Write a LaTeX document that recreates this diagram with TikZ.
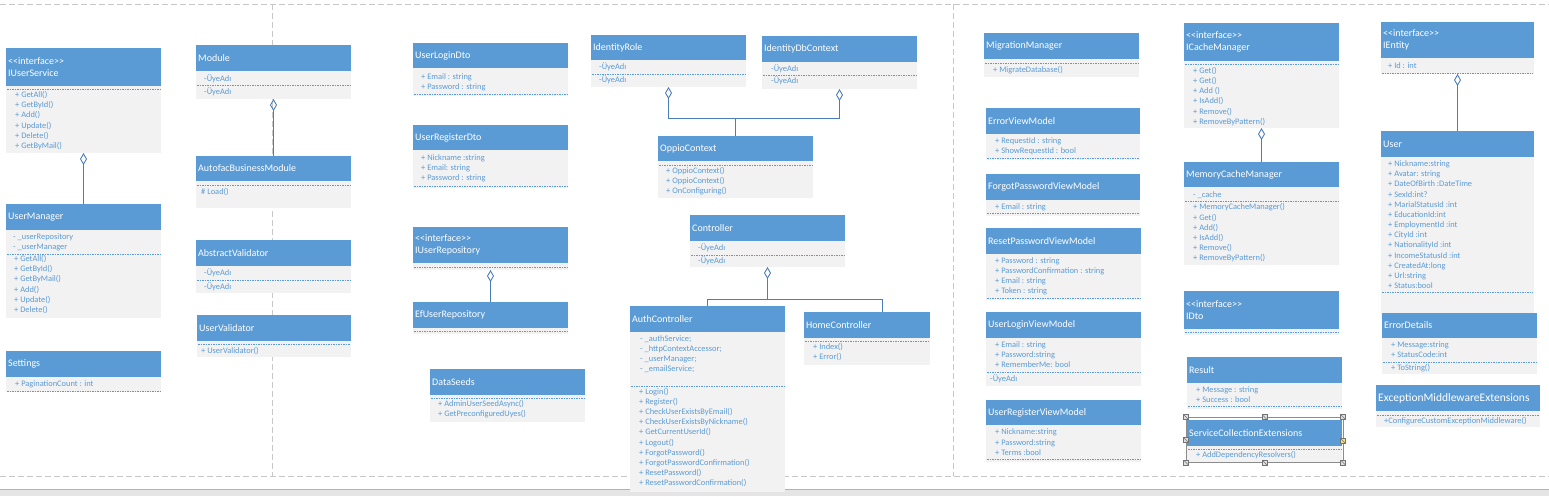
\documentclass[tikz,border=0pt]{standalone}
\usepackage{fontspec}
\setmainfont{Carlito}
\usetikzlibrary{arrows.meta}
\definecolor{hblue}{HTML}{5B9BD5}
\definecolor{bgrey}{HTML}{F2F2F2}
\definecolor{mblue}{HTML}{5B9BD5}
\definecolor{cblue}{HTML}{4A7EBB}
\definecolor{pgline}{HTML}{C8C8C8}
\definecolor{hyellow}{HTML}{FFE066}
\tikzset{
 hdr/.style={rectangle, fill=hblue, anchor=north west, inner sep=0pt, outer sep=0pt},
 bodyb/.style={rectangle, fill=bgrey, anchor=north west, inner sep=0pt, outer sep=0pt},
 hdrtxt/.style={anchor=west, align=left, inner sep=0pt, text=white, font=\fontsize{10}{12.5}\selectfont},
 mem/.style={anchor=west, inner sep=0pt, text=mblue, font=\fontsize{8.4}{10}\selectfont, text height=6pt, text depth=1.6pt},
 sepline/.style={draw=mblue, line width=0.6pt, dash pattern=on 1.5pt off 1pt},
 agg/.style={draw=cblue, line width=0.9pt, -{Diamond[open, length=12pt, width=7pt]}},
 conn/.style={draw=cblue, line width=0.9pt},
 pagebreak/.style={draw=pgline, line width=0.8pt, dash pattern=on 6pt off 3pt},
 selbox/.style={draw=black!45, line width=0.8pt},
 handle/.style={rectangle, draw=black!55, fill=black!12, minimum size=5pt, inner sep=0pt,
   path picture={\draw[black!55] (path picture bounding box.north west) -- (path picture bounding box.south east);}},
}
\newcommand\umlcls[7]{%
 \node[hdr, minimum width=#4pt, minimum height=#5pt] (#1) at (#2,#3) {};
 \node[bodyb, minimum width=#4pt, minimum height=#6pt] (#1-b) at (#2,{#3+#5}) {};
 \node[hdrtxt] (#1-t) at ([xshift=2pt]#1.west) {#7};}
\newcommand\umlmem[5]{%
 \foreach \mtxt [count=\mi] in {#5} {\node[mem] (#1-\mi) at (#2,{#3+(\mi-1)*#4}) {\mtxt};}}
\newcommand\umlsep[3]{\draw[sepline] ({#1+1},#3) -- ({#1+#2-1},#3);}
\begin{document}
\begin{tikzpicture}[x=1pt,y=-1pt]
\useasboundingbox (0,0) rectangle (1549,496);
\fill[white] (0,0) rectangle (1549,496);
% page frame
\fill[black!10] (0,489) rectangle (1549,496);
\draw[black!30, line width=1pt] (0,489) -- (1549,489);
\draw[pagebreak] (0,4) -- (1549,4);
\draw[pagebreak] (0,476) -- (1549,476);
\draw[pagebreak] (272,4) -- (272,476);
\draw[pagebreak] (953,4) -- (953,476);

% ---- column 1
\umlcls{ius}{6}{48}{155}{38}{67}{<{}<interface>{}>\\IUserService}
\umlsep{6}{155}{89}
\umlmem{ius-m}{15}{95}{10.3}{+ GetAll(), + GetById(), + Add(), + Update(), + Delete(), + GetByMail()}

\umlcls{um}{6}{204}{155}{26}{88}{UserManager}
\umlmem{um-a}{13}{237}{10}{- \_userRepository, - \_userManager}
\umlsep{6}{155}{254}
\umlmem{um-m}{14}{259.3}{10.2}{+ GetAll(), + GetById(), + GetByMail(), + Add(), + Update(), + Delete()}

\umlcls{set}{6}{351}{155}{26}{15}{Settings}
\umlmem{set-m}{15}{384}{10}{+ PaginationCount : int}
\umlsep{6}{155}{391}

% ---- column 2
\umlcls{mod}{196}{45}{155}{26}{28}{Module}
\umlmem{mod-a}{204}{79}{10}{-ÜyeAdı}
\umlsep{196}{155}{85.5}
\umlmem{mod-o}{204}{92}{10}{-ÜyeAdı}

\umlcls{afm}{196}{156}{155}{25}{27}{AutofacBusinessModule}
\umlsep{196}{155}{185}
\umlmem{afm-m}{201}{192}{10}{\# Load()}

\umlcls{av}{196}{240}{155}{26}{27}{AbstractValidator}
\umlmem{av-a}{204}{273}{10}{-ÜyeAdı}
\umlsep{196}{155}{280}
\umlmem{av-o}{204}{287}{10}{-ÜyeAdı}

\umlcls{uv}{197}{315}{154}{26}{16}{UserValidator}
\umlsep{197}{154}{344}
\umlmem{uv-m}{201}{351}{10}{+ UserValidator()}

% ---- column 3
\umlcls{uld}{413}{43}{155}{25}{28}{UserLoginDto}
\umlmem{uld-m}{421}{77}{10}{+ Email : string, + Password : string}
\umlsep{413}{155}{94}

\umlcls{urd}{413}{125}{155}{25}{38}{UserRegisterDto}
\umlmem{urd-m}{421}{158}{10}{+ Nickname :string, + Email: string, + Password : string}
\umlsep{413}{155}{186}

\umlcls{iur}{413}{227}{155}{36}{7}{<{}<interface>{}>\\IUserRepository}
\umlsep{413}{155}{267}

\umlcls{efr}{413}{302}{155}{26}{6}{EfUserRepository}
\umlsep{413}{155}{331}

\umlcls{ds}{430}{369}{155}{26}{27}{DataSeeds}
\umlsep{430}{155}{398}
\umlmem{ds-m}{438}{404.3}{10}{+ AdminUserSeedAsync(), + GetPreconfiguredUyes()}

% ---- context / controllers
\umlcls{ir}{591}{35}{155}{25}{27}{IdentityRole}
\umlmem{ir-a}{599}{67.3}{10}{-ÜyeAdı}
\umlsep{591}{155}{74}
\umlmem{ir-o}{599}{80.7}{10}{-ÜyeAdı}

\umlcls{idb}{762}{36}{155}{26}{27}{IdentityDbContext}
\umlmem{idb-a}{771}{69.3}{10}{-ÜyeAdı}
\umlsep{762}{155}{75}
\umlmem{idb-o}{771}{81.7}{10}{-ÜyeAdı}

\umlcls{oc}{658}{136}{155}{25}{37}{OppioContext}
\umlsep{658}{155}{165}
\umlmem{oc-m}{666}{171.7}{10}{+ OppioContext(), + OppioContext(), + OnConfiguring()}

\umlcls{ctl}{690}{215}{155}{26}{26}{Controller}
\umlmem{ctl-a}{698}{248.3}{10}{-ÜyeAdı}
\umlsep{690}{155}{255}
\umlmem{ctl-o}{698}{261}{10}{-ÜyeAdı}

\umlcls{ac}{630}{306}{155}{26}{160}{AuthController}
\umlmem{ac-a}{640}{339.3}{10}{- \_authService;, - \_httpContextAccessor;, - \_userManager;, - \_emailService;}
\umlsep{630}{155}{386.7}
\umlmem{ac-m}{639}{392.3}{10.1}{+ Login(), + Register(), + CheckUserExistsByEmail(), + CheckUserExistsByNickname(), + GetCurrentUserId(), + Logout(), + ForgotPassword(), + ForgotPasswordConfirmation(), + ResetPassword(), + ResetPasswordConfirmation()}

\umlcls{hc}{804}{312}{126}{26}{27}{HomeController}
\umlsep{804}{126}{341.7}
\umlmem{hc-m}{813}{347.3}{10}{+ Index(), + Error()}

% ---- view models
\umlcls{mm}{984}{33}{155}{26}{18}{MigrationManager}
\umlsep{984}{155}{63}
\umlmem{mm-m}{993}{70}{10}{+ MigrateDatabase()}

\umlcls{evm}{986}{108}{154}{26}{26}{ErrorViewModel}
\umlmem{evm-m}{995}{141.7}{10}{+ RequestId : string, + ShowRequestId : bool}
\umlsep{986}{154}{158}

\umlcls{fvm}{986}{174}{154}{26}{16}{ForgotPasswordViewModel}
\umlmem{fvm-m}{995}{207.7}{10}{+ Email : string}
\umlsep{986}{154}{213.3}

\umlcls{rvm}{986}{228}{155}{26}{46}{ResetPasswordViewModel}
\umlmem{rvm-m}{995}{261.7}{10}{+ Password : string, + PasswordConfirmation : string, + Email : string, + Token : string}
\umlsep{986}{155}{298.7}

\umlcls{lvm}{986}{312}{155}{26}{48}{UserLoginViewModel}
\umlmem{lvm-m}{995}{345.7}{10}{+ Email : string, + Password:string, + RememberMe: bool}
\umlsep{986}{155}{372.3}
\umlmem{lvm-a}{990}{379.3}{10}{-ÜyeAdı}

\umlcls{rgvm}{986}{400}{155}{25}{37}{UserRegisterViewModel}
\umlmem{rgvm-m}{995}{432.3}{10.5}{+ Nickname:string, + Password:string, + Terms :bool}
\umlsep{986}{155}{459.3}

% ---- cache
\umlcls{icm}{1184}{23}{155}{38}{67}{<{}<interface>{}>\\ICacheManager}
\umlsep{1184}{155}{64}
\umlmem{icm-m}{1193}{71}{10.2}{+ Get(), + Get(), + Add (), + IsAdd(), + Remove(), + RemoveByPattern()}

\umlcls{mcm}{1184}{162}{155}{25}{78}{MemoryCacheManager}
\umlmem{mcm-a}{1193}{195.7}{10}{- \_cache}
\umlsep{1184}{155}{201}
\umlmem{mcm-m}{1193}{207.7}{10.1}{+ MemoryCacheManager(), + Get(), + Add(), + IsAdd(), + Remove(), + RemoveByPattern()}

\umlcls{idto}{1184}{291}{155}{38}{6}{<{}<interface>{}>\\IDto}
\umlsep{1184}{155}{332}

\umlcls{res}{1187}{357}{155}{26}{26}{Result}
\umlmem{res-m}{1196}{390.3}{10}{+ Message : string, + Success : bool}
\umlsep{1187}{155}{406}

\umlcls{sce}{1187}{420}{155}{26}{17}{ServiceCollectionExtensions}
\umlsep{1187}{155}{449.7}
\umlmem{sce-m}{1196}{455.7}{10}{+ AddDependencyResolvers()}
\draw[selbox] (1186,417) rectangle (1343,462.5);
\foreach \hx/\hy [count=\k] in {1186/417, 1264.5/417, 1343/417, 1186/440, 1186/462.5, 1264.5/462.5, 1343/462.5}
  {\node[handle] (sel\k) at (\hx,\hy) {};}
\node[handle, fill=hyellow] (selY) at (1343,441) {};

% ---- entity
\umlcls{ien}{1381}{22}{153}{36}{16}{<{}<interface>{}>\\IEntity}
\umlmem{ien-m}{1388}{66.7}{10}{+ Id : int}
\umlsep{1381}{153}{73.3}

\umlcls{usr}{1381}{131}{153}{26}{162}{User}
\umlmem{usr-m}{1388}{164.3}{10.17}{+ Nickname:string, + Avatar: string, + DateOfBirth :DateTime, + SexId:int?, + MarialStatusId :int, + EducationId:int, + EmploymentId :int, + CityId :int, + NationalityId :int, + IncomeStatusId :int, + CreatedAt:long, + Url:string, + Status:bool}
\umlsep{1381}{153}{292.7}

\umlcls{ed}{1382}{313}{155}{25}{36}{ErrorDetails}
\umlmem{ed-a}{1391}{345}{10}{+ Message:string, + StatusCode:int}
\umlsep{1382}{155}{362}
\umlmem{ed-o}{1391}{368}{10}{+ ToString()}

\umlcls{eme}{1376}{385}{164}{26}{16}{{\fontsize{11.5}{13}\selectfont ExceptionMiddlewareExtensions}}
\umlsep{1376}{164}{415}
\umlmem{eme-m}{1384}{421}{10}{+ConfigureCustomExceptionMiddleware()}

% ---- connectors
\draw[agg] (um.north) -- (ius-b.south);
\draw[agg] (afm.north) -- (mod-b.south);
\draw[agg] (efr.north) -- (iur-b.south);
\coordinate (j1) at (735.5,118);
\draw[conn] (oc.north) -- (j1);
\draw[agg] (j1) -| (ir-b.south);
\draw[agg] (j1) -| (idb-b.south);
\coordinate (j2) at (767.5,299);
\draw[agg] (j2) -- (ctl-b.south);
\draw[conn] (ac.north) |- (j2);
\coordinate (hcT) at (882,312);
\draw[conn] (hcT) |- (j2);
\draw[agg] (mcm.north) -- (icm-b.south);
\draw[agg] (usr.north) -- (ien-b.south);
\end{tikzpicture}
\end{document}
